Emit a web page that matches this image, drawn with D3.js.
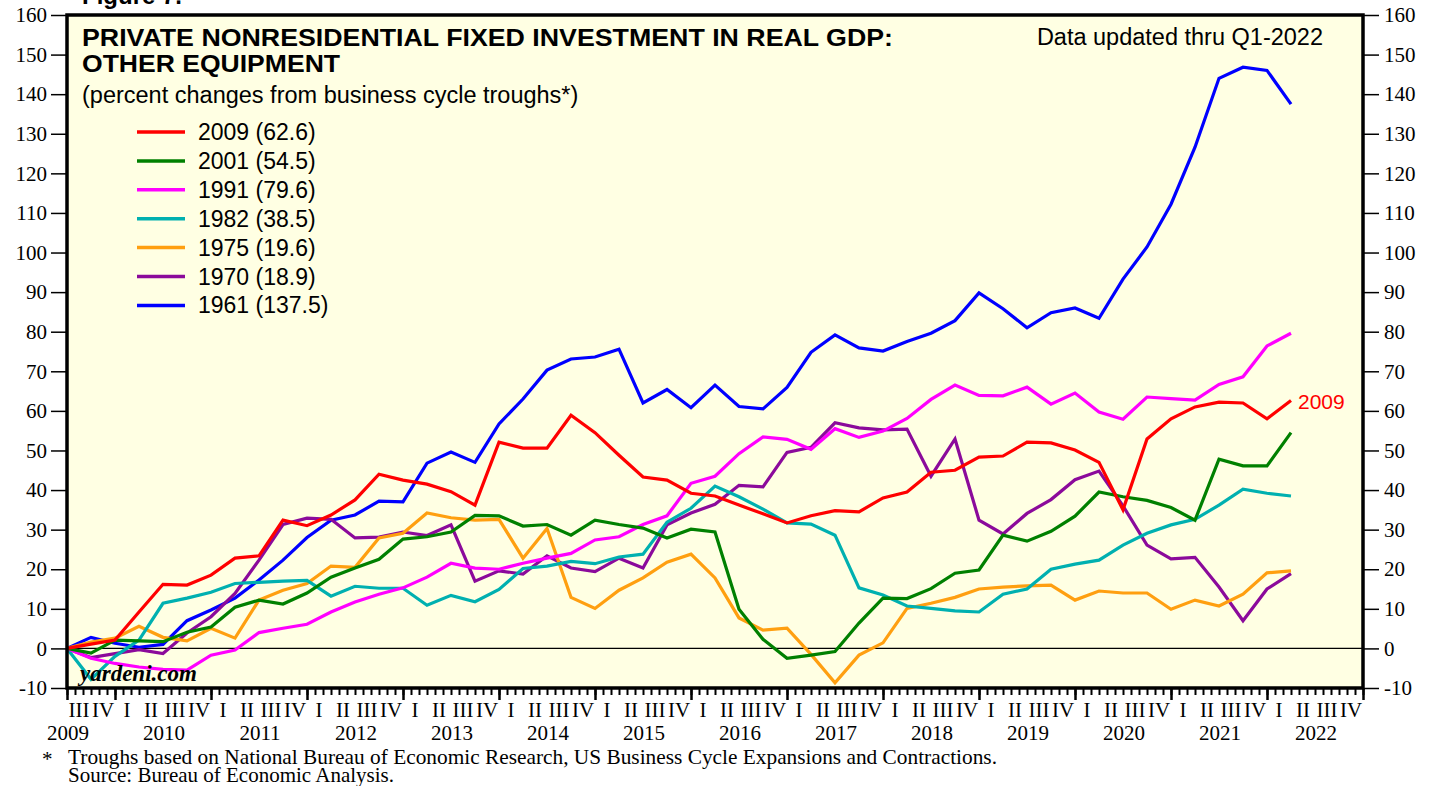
<!DOCTYPE html>
<html>
<head>
<meta charset="utf-8">
<script src="https://cdnjs.cloudflare.com/ajax/libs/d3/7.8.5/d3.min.js"></script>
<style>
  body { margin: 0; background: #fff; }
  svg { display: block; }
</style>
</head>
<body>
<div id="chart"></div>
<script>
// percent change from trough, one value per quarter (index 0 = trough quarter)
var s2009 = [0, 1.1, 2.1, 9.2, 16.2, 16, 18.5, 22.8, 23.4, 32.4, 31, 33.7, 37.5, 44, 42.5, 41.5, 39.6, 36.2, 52.1, 50.6, 50.6, 58.9, 54.5, 48.8, 43.3, 42.5, 39.2, 38.5, 36.2, 34, 31.7, 33.5, 34.8, 34.5, 38, 39.5, 44.5, 45, 48.3, 48.6, 52.1, 51.9, 50.1, 47, 35, 52.9, 58, 61, 62.2, 62, 58, 62.6];
var s2001 = [0, -1.2, 2.1, 1.9, 1.7, 4.1, 5.4, 10.4, 12.2, 11.2, 14, 18, 20.3, 22.5, 27.6, 28.2, 29.4, 33.6, 33.5, 30.9, 31.3, 28.6, 32.4, 31.3, 30.4, 27.9, 30.1, 29.4, 9.9, 2.3, -2.5, -1.7, -0.8, 6.4, 12.7, 12.6, 15.1, 19, 19.8, 28.6, 27.1, 29.6, 33.4, 39.5, 38.3, 37.4, 35.6, 32.4, 47.8, 46.1, 46.1, 54.5];
var s1991 = [0, -2.5, -3.8, -4.7, -5.3, -5.5, -1.7, -0.4, 4, 5.1, 6.1, 9.2, 11.7, 13.7, 15.3, 18, 21.5, 20.3, 20, 21.5, 22.8, 24, 27.4, 28.2, 31.3, 33.5, 41.7, 43.5, 49.2, 53.4, 52.8, 50.3, 55.5, 53.3, 54.9, 58.1, 62.9, 66.5, 63.9, 63.8, 66, 61.7, 64.5, 59.7, 57.9, 63.5, 63.1, 62.7, 66.7, 68.6, 76.4, 79.6];
var s1982 = [0, -7.8, -2, 2.1, 11.4, 12.7, 14.2, 16.4, 16.7, 17, 17.2, 13.2, 15.7, 15.2, 15.2, 10.9, 13.4, 11.8, 14.9, 20.2, 20.8, 22, 21.4, 23.1, 23.8, 31.9, 35.4, 41, 38.3, 35.2, 31.7, 31.4, 28.6, 15.3, 13.5, 10.7, 10.1, 9.5, 9.2, 13.7, 15, 20, 21.3, 22.3, 26.1, 29.1, 31.2, 32.6, 36.2, 40.2, 39.2, 38.5];
var s1975 = [0, 1.6, 2.6, 5.6, 2.8, 1.9, 5.1, 2.6, 12.2, 14.7, 16.4, 20.8, 20.5, 27.9, 29.1, 34.2, 33, 32.4, 32.6, 22.8, 30.3, 12.9, 10.1, 14.7, 17.8, 21.8, 23.8, 17.8, 7.7, 4.6, 5.1, -1.5, -8.7, -1.7, 1.4, 10.1, 11.4, 12.9, 15, 15.5, 15.8, 16, 12.2, 14.5, 14, 14, 9.9, 12.2, 10.7, 13.7, 19.1, 19.6];
var s1970 = [0, -2.3, -1.3, -0.3, -1.3, 3.9, 8, 13.9, 22.3, 31.3, 32.9, 32.6, 27.9, 28.1, 29.4, 28.5, 31.2, 17, 19.6, 18.8, 23.4, 20.3, 19.4, 22.8, 20.3, 31.2, 34.2, 36.4, 41.2, 40.8, 49.5, 50.8, 57, 55.7, 55.2, 55.4, 43.5, 52.9, 32.4, 28.9, 34.1, 37.6, 42.6, 44.8, 36, 26.1, 22.6, 23, 15.5, 7, 15, 18.9];
var s1961 = [0, 2.8, 1.3, 0.3, 1, 7, 9.7, 12.7, 17.3, 22.3, 28, 32.4, 33.7, 37.2, 37, 46.8, 49.6, 47, 56.7, 63, 70.3, 73.1, 73.6, 75.6, 62, 65.4, 60.8, 66.5, 61.1, 60.5, 65.9, 74.8, 79.2, 75.9, 75.1, 77.5, 79.6, 82.8, 89.8, 85.8, 81, 84.8, 86, 83.4, 93.3, 101.4, 112.2, 126.6, 144, 146.8, 146, 137.5];

var seriesNames = ["2009 (62.6)", "2001 (54.5)", "1991 (79.6)", "1982 (38.5)", "1975 (19.6)", "1970 (18.9)", "1961 (137.5)"];
var seriesColors = ["#ff0000", "#008000", "#ff00ff", "#00b0b0", "#ff9f10", "#8b0a9b", "#0000ff"];
var seriesData = [s2009, s2001, s1991, s1982, s1975, s1970, s1961];

var years = [2009, 2010, 2011, 2012, 2013, 2014, 2015, 2016, 2017, 2018, 2019, 2020, 2021, 2022];
var quarterNames = ["I", "II", "III", "IV"];
var yTicks = d3.range(-10, 161, 10);

var width = 1439, height = 786;
var plotL = 67, plotR = 1363, plotT = 15, plotB = 688;

var sans = "'Liberation Sans', Arial, sans-serif";
var serif = "'Liberation Serif', 'Times New Roman', serif";

var svg = d3.select("#chart").append("svg")
    .attr("width", width)
    .attr("height", height);

// x in quarters, 0 = start of 2009 Q3 (end of trough quarter)
var x = d3.scaleLinear().domain([0, 54]).range([plotL, plotR]);
var y = d3.scaleLinear().domain([-10, 160]).range([plotB, plotT]);

// heading that is cut off at the top edge
svg.append("text")
    .attr("x", 82).attr("y", 4)
    .style("font-family", sans)
    .style("font-weight", "bold")
    .style("font-size", "24px")
    .text("Figure 7.");

// plot background
svg.append("rect")
    .attr("x", plotL).attr("y", plotT)
    .attr("width", plotR - plotL).attr("height", plotB - plotT)
    .attr("fill", "#ffffe3");

// zero line
svg.append("line")
    .attr("x1", plotL).attr("x2", plotR)
    .attr("y1", y(0)).attr("y2", y(0))
    .attr("stroke", "#000").attr("stroke-width", 1.2);

// y axes on both sides
function styleAxis(g) {
    g.select(".domain").remove();
    g.selectAll(".tick line").attr("stroke", "#000").attr("stroke-width", 1.5);
    g.selectAll("text")
        .style("font-family", serif)
        .style("font-size", "21px")
        .attr("fill", "#000");
}
var plainNum = function (d) { return String(d); };

svg.append("g").attr("transform", "translate(" + (plotL - 1) + ",0)")
    .call(d3.axisLeft(y).tickValues(yTicks).tickSize(15).tickPadding(4).tickFormat(plainNum))
    .call(styleAxis);
svg.append("g").attr("transform", "translate(" + (plotR + 1) + ",0)")
    .call(d3.axisRight(y).tickValues(yTicks).tickSize(15).tickPadding(5).tickFormat(plainNum))
    .call(styleAxis);

// bottom: monthly minor ticks, yearly major ticks
var monthTicks = d3.range(0, 54.01, 1 / 3);
svg.append("g").attr("transform", "translate(0," + plotB + ")")
    .call(d3.axisBottom(x).tickValues(monthTicks).tickSize(7).tickFormat(""))
    .call(function (g) {
        g.select(".domain").remove();
        g.selectAll(".tick line").attr("stroke", "#000").attr("stroke-width", 2);
    });

var yearTicks = d3.range(2, 54.01, 4);
svg.append("g").attr("transform", "translate(0," + plotB + ")")
    .call(d3.axisBottom(x).tickValues([0].concat(yearTicks)).tickSize(12).tickFormat(""))
    .call(function (g) {
        g.select(".domain").remove();
        g.selectAll(".tick line").attr("stroke", "#000").attr("stroke-width", 2.5);
    });

// quarter labels
var qLabels = [];
years.forEach(function (yr, i) {
    quarterNames.forEach(function (q, k) {
        var pos = (i * 4 + k) - 2; // 2009 Q3 -> 0
        if (pos >= 0) qLabels.push({ label: q, pos: pos });
    });
});

svg.append("g").selectAll("text")
    .data(qLabels)
    .enter().append("text")
    .attr("x", function (d) { return x(d.pos + 0.5); })
    .attr("y", 717)
    .attr("text-anchor", "middle")
    .style("font-family", serif)
    .style("font-size", "21px")
    .text(function (d) { return d.label; });

svg.append("g").selectAll("text")
    .data(years)
    .enter().append("text")
    .attr("x", function (d, i) { return x(i * 4) + 1; })
    .attr("y", 740)
    .attr("text-anchor", "middle")
    .style("font-family", serif)
    .style("font-size", "21px")
    .text(function (d) { return d; });

// series lines
var line = d3.line()
    .x(function (d, i) { return x(i); })
    .y(function (d) { return y(d); });

var order = [6, 5, 4, 3, 2, 1, 0];
svg.append("g").selectAll("path")
    .data(order)
    .enter().append("path")
    .attr("d", function (k) { return line(seriesData[k]); })
    .attr("fill", "none")
    .attr("stroke", function (k) { return seriesColors[k]; })
    .attr("stroke-width", 3.2)
    .attr("stroke-linejoin", "miter");

// frame
svg.append("rect")
    .attr("x", plotL).attr("y", plotT)
    .attr("width", plotR - plotL).attr("height", plotB - plotT)
    .attr("fill", "none")
    .attr("stroke", "#000").attr("stroke-width", 3.5);

// titles
svg.append("text").attr("x", 82).attr("y", 46)
    .attr("textLength", 811).attr("lengthAdjust", "spacingAndGlyphs")
    .style("font-family", sans).style("font-weight", "bold").style("font-size", "24px")
    .text("PRIVATE NONRESIDENTIAL FIXED INVESTMENT IN REAL GDP:");
svg.append("text").attr("x", 82).attr("y", 72)
    .attr("textLength", 258).attr("lengthAdjust", "spacingAndGlyphs")
    .style("font-family", sans).style("font-weight", "bold").style("font-size", "24px")
    .text("OTHER EQUIPMENT");
svg.append("text").attr("x", 82).attr("y", 103)
    .style("font-family", sans).style("font-size", "23.5px")
    .text("(percent changes from business cycle troughs*)");
svg.append("text").attr("x", 1323).attr("y", 45)
    .attr("text-anchor", "end")
    .style("font-family", sans).style("font-size", "23.5px")
    .text("Data updated thru Q1-2022");

// legend
var legend = svg.append("g").selectAll("g")
    .data(seriesNames)
    .enter().append("g")
    .attr("transform", function (d, i) { return "translate(137," + (132 + i * 28.9) + ")"; });
legend.append("line")
    .attr("x1", 0).attr("x2", 48)
    .attr("stroke", function (d, i) { return seriesColors[i]; })
    .attr("stroke-width", 3.5);
legend.append("text")
    .attr("x", 61).attr("y", 8)
    .style("font-family", sans).style("font-size", "23px")
    .text(function (d) { return d; });

// end label
svg.append("text")
    .attr("x", x(s2009.length - 1) + 7)
    .attr("y", y(s2009[s2009.length - 1]) + 8)
    .attr("fill", "#ff0000")
    .style("font-family", sans).style("font-size", "21px")
    .text("2009");

// watermark
svg.append("text").attr("x", 80).attr("y", 681)
    .style("font-family", serif)
    .style("font-weight", "bold").style("font-style", "italic").style("font-size", "23px")
    .text("yardeni.com");

// footnotes
svg.append("text").attr("x", 42).attr("y", 766)
    .style("font-family", serif).style("font-size", "21px").text("*");
svg.append("text").attr("x", 68).attr("y", 764)
    .attr("textLength", 929).attr("lengthAdjust", "spacingAndGlyphs")
    .style("font-family", serif).style("font-size", "21px")
    .text("Troughs based on National Bureau of Economic Research, US Business Cycle Expansions and Contractions.");
svg.append("text").attr("x", 68).attr("y", 782)
    .style("font-family", serif).style("font-size", "21px")
    .text("Source: Bureau of Economic Analysis.");
</script>
</body>
</html>
